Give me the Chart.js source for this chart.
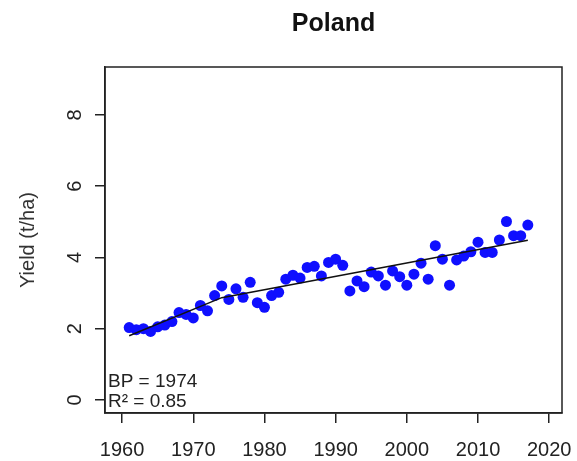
<!DOCTYPE html>
<html>
<head>
<meta charset="utf-8">
<script src="https://cdn.jsdelivr.net/npm/chart.js@4"></script>
<style>
  html, body { margin: 0; padding: 0; background: #fff; }
  #wrap { width: 577px; height: 461px; }
</style>
</head>
<body>
<div id="wrap"><canvas id="myChart" width="577" height="461"></canvas></div>
<script>
// data
var years = [1961, 1962, 1963, 1964, 1965, 1966, 1967, 1968, 1969, 1970,
  1971, 1972, 1973, 1974, 1975, 1976, 1977, 1978, 1979, 1980,
  1981, 1982, 1983, 1984, 1985, 1986, 1987, 1988, 1989, 1990,
  1991, 1992, 1993, 1994, 1995, 1996, 1997, 1998, 1999, 2000,
  2001, 2002, 2003, 2004, 2005, 2006, 2007, 2008, 2009, 2010,
  2011, 2012, 2013, 2014, 2015, 2016, 2017];
var yields = [2.03, 1.97, 2.0, 1.92, 2.05, 2.1, 2.2, 2.45, 2.4, 2.3,
  2.65, 2.5, 2.93, 3.2, 2.82, 3.12, 2.88, 3.3, 2.73, 2.6,
  2.93, 3.02, 3.39, 3.5, 3.42, 3.72, 3.75, 3.48, 3.86, 3.95,
  3.78, 3.06, 3.34, 3.18, 3.59, 3.48, 3.22, 3.62, 3.46, 3.22,
  3.53, 3.84, 3.39, 4.33, 3.95, 3.22, 3.93, 4.04, 4.16, 4.43,
  4.14, 4.14, 4.49, 5.01, 4.61, 4.61, 4.91];
// fitted piecewise trend (breakpoint 1974)
var trendYears = [1961, 1974, 2017];
var trendValues = [1.80, 2.87, 4.48];

var xTicks = [1960, 1970, 1980, 1990, 2000, 2010, 2020];
var yTicks = [0, 2, 4, 6, 8];
var chartTitle = 'Poland';
var yTitle = 'Yield (t/ha)';
var noteLines = ['BP = 1974', 'R\u00b2 = 0.85'];

var FONT = 'Arial, "Liberation Sans", sans-serif';

var points = years.map(function (y, i) { return { x: y, y: yields[i] }; });
var trend = trendYears.map(function (y, i) { return { x: y, y: trendValues[i] }; });

var extras = {
  id: 'extras',
  afterDraw: function (chart) {
    var ctx = chart.ctx;
    var a = chart.chartArea;
    var ys = chart.scales.y;
    ctx.save();
    // box
    ctx.strokeStyle = '#222';
    ctx.lineWidth = 1.5;
    ctx.strokeRect(a.left, a.top, a.right - a.left, a.bottom - a.top);
    // title
    ctx.fillStyle = '#111';
    ctx.font = 'bold 25px ' + FONT;
    ctx.textAlign = 'center';
    ctx.textBaseline = 'middle';
    ctx.fillText(chartTitle, (a.left + a.right) / 2, 24);
    // rotated y tick labels
    ctx.font = '20px ' + FONT;
    ctx.fillStyle = '#222';
    yTicks.forEach(function (v) {
      var py = ys.getPixelForValue(v);
      ctx.save();
      ctx.translate(75, py);
      ctx.rotate(-Math.PI / 2);
      ctx.fillText(String(v), 0, 0);
      ctx.restore();
    });
    // note
    ctx.font = '19px ' + FONT;
    ctx.textAlign = 'left';
    ctx.textBaseline = 'alphabetic';
    ctx.fillText(noteLines[0], 108, 387);
    ctx.fillText(noteLines[1], 108, 407);
    ctx.restore();
  }
};

var ctx = document.getElementById('myChart').getContext('2d');
var chart = new Chart(ctx, {
  type: 'scatter',
  data: {
    datasets: [{
      type: 'line',
      data: trend,
      borderColor: '#111',
      borderWidth: 1.5,
      pointRadius: 0,
      fill: false,
      order: 0
    }, {
      data: points,
      backgroundColor: 'rgb(15,15,255)',
      borderColor: 'rgb(15,15,255)',
      pointRadius: 5.5,
      borderWidth: 0,
      order: 1
    }]
  },
  options: {
    responsive: false,
    animation: false,
    layout: { padding: { top: 67, right: 15, left: 0, bottom: 0 } },
    plugins: { legend: { display: false }, tooltip: { enabled: false } },
    scales: {
      x: {
        type: 'linear',
        min: 1957.6,
        max: 2021.8,
        afterBuildTicks: function (axis) {
          axis.ticks = xTicks.map(function (v) { return { value: v }; });
        },
        afterFit: function (scale) {
          scale.height = 48;
          scale.paddingLeft = 0;
          scale.paddingRight = 0;
        },
        grid: { drawOnChartArea: false, drawTicks: true, tickLength: 10, color: '#222', lineWidth: 1.5 },
        border: { display: true, color: '#222', width: 1.5 },
        ticks: {
          padding: 15,
          maxRotation: 0,
          color: '#222',
          font: { family: FONT, size: 20 },
          callback: function (v) { return String(v); }
        }
      },
      y: {
        type: 'linear',
        min: -0.37,
        max: 9.35,
        afterBuildTicks: function (axis) {
          axis.ticks = yTicks.map(function (v) { return { value: v }; });
        },
        afterFit: function (scale) {
          scale.width = 105;
          scale.paddingTop = 0;
          scale.paddingBottom = 0;
        },
        grid: { drawOnChartArea: false, drawTicks: true, tickLength: 10, color: '#222', lineWidth: 1.5 },
        border: { display: true, color: '#222', width: 1.5 },
        ticks: {
          color: 'rgba(0,0,0,0)',
          font: { family: FONT, size: 18 }
        },
        title: {
          display: true,
          text: yTitle,
          color: '#333',
          padding: { top: 16, bottom: 0 },
          font: { family: FONT, size: 20 }
        }
      }
    }
  },
  plugins: [extras]
});
</script>
</body>
</html>
